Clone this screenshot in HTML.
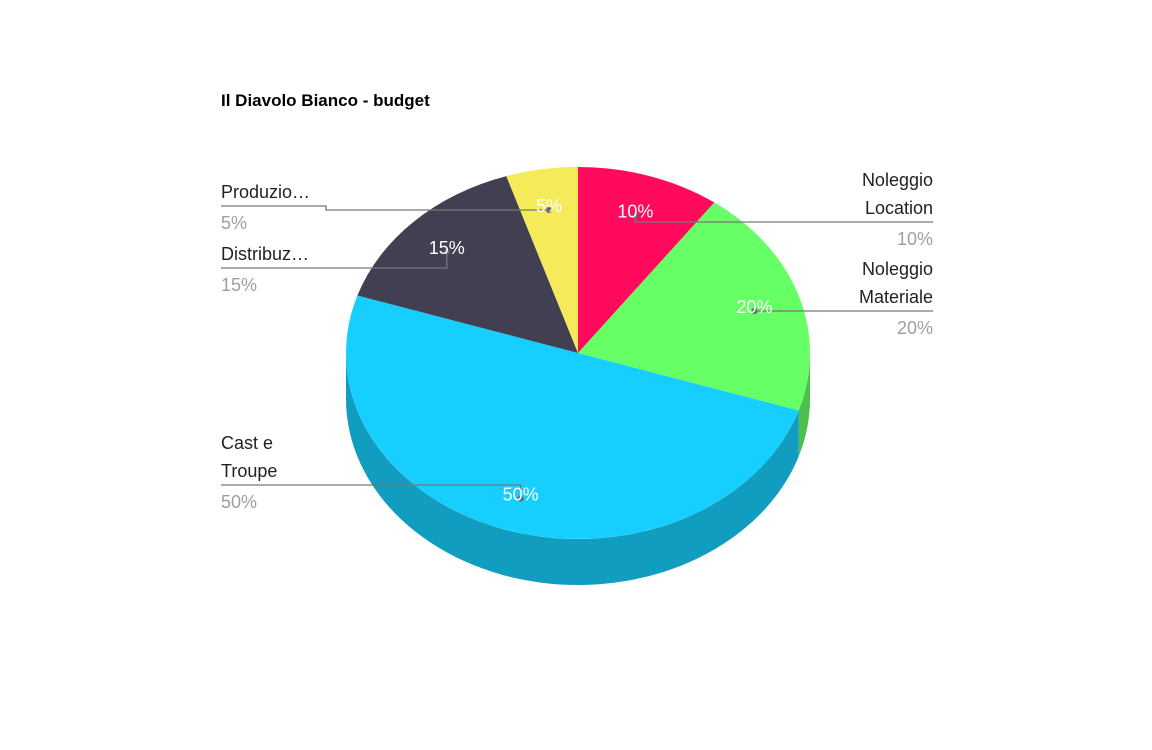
<!DOCTYPE html>
<html><head><meta charset="utf-8"><style>
body{margin:0;background:#fff}
svg{display:block;font-family:"Liberation Sans",Arial,sans-serif}
</style></head><body>
<svg id="chart" width="1152" height="750" viewBox="0 0 1152 750">
<rect width="1152" height="750" fill="#fff"/>
<text x="221" y="106" font-size="17" font-weight="bold" fill="#000">Il Diavolo Bianco - budget</text>
<g id="sides"></g><g id="tops"></g><g id="leaders"></g><g id="inner"></g><g id="outer"></g>
</svg>
<script>
const categories=["Noleggio Location","Noleggio Materiale","Cast e Troupe","Distribuzione","Produzione"];
const values=[10,20,50,15,5];
const colors=["#FF0A5C","#66FF66","#17CFFF","#423F52","#F5EB5A"];
const sideColors=["#C00845","#4DBF4D","#109DC0","#322F3E","#B8B044"];
const labelLines=[["Noleggio","Location"],["Noleggio","Materiale"],["Cast e","Troupe"],["Distribuz…"],["Produzio…"]];
const cx=578,cy=353,rx=232,ry=186,depth=46;
const NS="http://www.w3.org/2000/svg";
function mk(t,a,p){const e=document.createElementNS(NS,t);for(const k in a)e.setAttribute(k,a[k]);p.appendChild(e);return e;}
function pt(a,k=1){return [cx+rx*k*Math.sin(a),cy-ry*k*Math.cos(a)];}
const total=values.reduce((s,v)=>s+v,0);
let acc=0;
const sides=document.getElementById('sides'),tops=document.getElementById('tops'),inner=document.getElementById('inner'),leaders=document.getElementById('leaders'),outer=document.getElementById('outer');
// outer label anchor layout: [side, lineY, textX]
const layout=[["r",222],["r",311],["l",485],["l",268],["l",216]];
values.forEach((v,i)=>{
  const a0=acc/total*2*Math.PI; acc+=v; const a1=acc/total*2*Math.PI;
  // side
  const s0=Math.max(a0,Math.PI/2),s1=Math.min(a1,3*Math.PI/2);
  if(s1>s0){
    const p0=pt(s0),p1=pt(s1);
    const d=`M${p0[0]},${p0[1]} A${rx},${ry} 0 0 1 ${p1[0]},${p1[1]} L${p1[0]},${p1[1]+depth} A${rx},${ry} 0 0 0 ${p0[0]},${p0[1]+depth} Z`;
    const e=mk('path',{d,fill:sideColors[i]},sides);
    
    
  }
  const p0=pt(a0),p1=pt(a1),large=(a1-a0)>Math.PI?1:0;
  const e=mk('path',{d:`M${cx},${cy} L${p0[0]},${p0[1]} A${rx},${ry} 0 ${large} 1 ${p1[0]},${p1[1]} Z`,fill:colors[i]},tops);
  
  
  const m=(a0+a1)/2,lp=pt(m,0.8);
  const t=mk('text',{x:lp[0],y:lp[1]+6,'text-anchor':'middle','font-size':18,fill:'#fff'},inner);
  t.textContent=v+'%';
  
  
  // leader
  const [side,ly]=layout[i];
  const dot=[lp[0],lp[1]+4];
  const dt=mk('circle',{cx:dot[0],cy:dot[1],r:3,fill:'#666'},leaders);
  
  
  let d;
  if(side==='r') d=`M${dot[0]},${dot[1]} L${dot[0]},${ly} L933,${ly}`;
  else if(i===4) d=`M${dot[0]},${dot[1]} L326,${dot[1]} L326,206 L221,206`;
  else d=`M${dot[0]},${dot[1]} L${dot[0]},${ly} L221,${ly}`;
  const ln=mk('path',{d,fill:'none',stroke:'#777','stroke-width':1.3},leaders);
  
  
  const lines=labelLines[i];
  const baseY=(i===4?206:ly)-8-(lines.length-1)*28;
  const anchor=side==='r'?'end':'start',tx=side==='r'?933:221;
  lines.forEach((s,j)=>{
    const tt=mk('text',{x:tx,y:baseY+j*28,'text-anchor':anchor,'font-size':18,fill:'#222'},outer);
    tt.textContent=s;
    
    
  });
  const pv=mk('text',{x:tx,y:(i===4?206:ly)+23,'text-anchor':anchor,'font-size':18,fill:'#9e9e9e'},outer);
  pv.textContent=v+'%';
  
  
});
</script>
</body></html>
